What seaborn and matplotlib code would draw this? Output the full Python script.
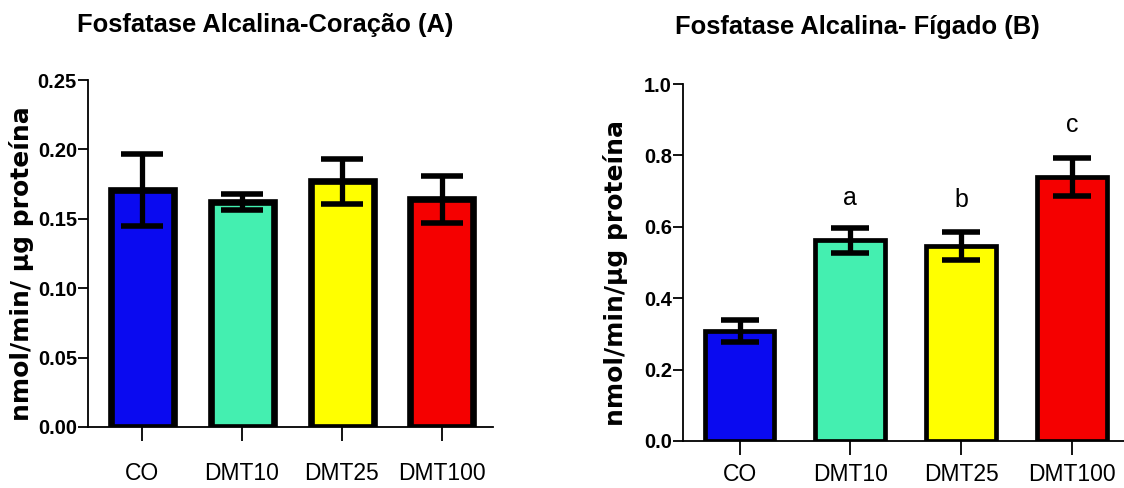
import numpy as np
import pandas as pd
import seaborn as sns
import matplotlib.pyplot as plt

# dados
grupos = ['CO', 'DMT10', 'DMT25', 'DMT100']
cores = ['#0a0af0', '#44efb0', '#ffff00', '#f50000']

coracao_media = [0.171, 0.162, 0.177, 0.164]
coracao_epm = [0.026, 0.006, 0.016, 0.017]

figado_media = [0.308, 0.563, 0.546, 0.740]
figado_epm = [0.030, 0.035, 0.039, 0.053]
figado_letras = ['', 'a', 'b', 'c']
letras_y = [0, 0.68, 0.675, 0.885]

sns.set_style('ticks')
plt.rcParams['font.family'] = ['Liberation Sans', 'DejaVu Sans']
for k in ['text.color', 'axes.labelcolor', 'xtick.color', 'ytick.color', 'axes.edgecolor']:
    plt.rcParams[k] = 'black'

fig = plt.figure(figsize=(11.24, 4.88), dpi=100)
W, H = 1124, 488


def eixo(x0, x1, y0, y1):
    return fig.add_axes([x0 / W, 1 - y1 / H, (x1 - x0) / W, (y1 - y0) / H])


def painel(ax, media, epm, lw, cap, ymax, passo, fmt):
    df = pd.DataFrame({'grupo': grupos, 'valor': media})
    sns.barplot(data=df, x='grupo', y='valor', hue='grupo', palette=cores,
                width=0.63, edgecolor='black', linewidth=lw, legend=False,
                saturation=1, ax=ax)
    ax.errorbar(range(len(grupos)), media, yerr=epm, fmt='none', ecolor='black',
                elinewidth=3.8, capsize=cap, capthick=4, zorder=5)
    ticks = np.arange(0, ymax + passo / 2, passo)
    ax.set_ylim(0, ymax)
    ax.set_yticks(ticks)
    ax.set_yticklabels([fmt.format(v) for v in ticks], fontsize=14.5, fontweight='bold')
    ax.set_xticks(range(len(grupos)))
    ax.set_xticklabels(grupos, fontsize=16.5)
    ax.set_xlabel('')
    for s in ['top', 'right']:
        ax.spines[s].set_visible(False)
    for s in ['left', 'bottom']:
        ax.spines[s].set_linewidth(1.3)
    ax.tick_params(axis='y', length=7, width=1.3, pad=1)
    ax.tick_params(axis='x', length=10, width=1.3)


# (A) coração
ax1 = eixo(88, 493, 80, 427)
painel(ax1, coracao_media, coracao_epm, 4.8, 15, 0.25, 0.05, '{:.2f}')
ax1.set_xlim(-0.54, 3.51)
ax1.tick_params(axis='x', pad=15)
ax1.set_ylabel('nmol/min/ µg proteína', fontsize=18, fontweight='bold',
               family=['DejaVu Sans'], va='center')
ax1.yaxis.set_label_coords(-0.163, 0.47)
fig.text(265 / W, 1 - 25 / H, 'Fosfatase Alcalina-Coração (A)', ha='center', va='center',
         fontsize=18.4, fontweight='bold')

# (B) fígado
ax2 = eixo(683, 1124, 84, 441)
painel(ax2, figado_media, figado_epm, 3.4, 14, 1.0, 0.2, '{:.1f}')
ax2.set_xlim(-0.51, 3.47)
ax2.tick_params(axis='x', pad=6)
ax2.set_ylabel('nmol/min/µg proteína', fontsize=18, fontweight='bold',
               family=['DejaVu Sans'], va='center')
ax2.yaxis.set_label_coords(-0.152, 0.47)
for i, (t, y) in enumerate(zip(figado_letras, letras_y)):
    if t:
        ax2.text(i, y, t, ha='center', va='center', fontsize=18)
fig.text(857 / W, 1 - 27 / H, 'Fosfatase Alcalina- Fígado (B)', ha='center', va='center',
         fontsize=18.4, fontweight='bold')

fig.savefig('out.png', dpi=100)
